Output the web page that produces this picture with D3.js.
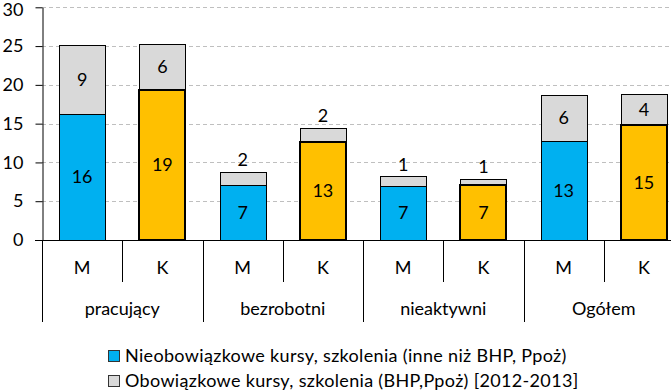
<!DOCTYPE html>
<html><head><meta charset="utf-8">
<script src="https://cdn.jsdelivr.net/npm/d3@7"></script>
<style>body{margin:0;background:#fff}svg{display:block}text{font-family:Lato,"Open Sans",sans-serif;fill:#000}</style>
</head><body><svg id="c" width="671" height="392"></svg>
<script>
const groups = ["pracujący","bezrobotni","nieaktywni","Ogółem"];
const sexes = ["M","K"];
const nonMandatory = [16.2, 19.3, 7.05, 12.6, 7.0, 7.1, 12.8, 14.8];
const mandatory = [8.9, 6.0, 1.7, 1.9, 1.2, 0.8, 5.9, 4.0];
const yTicks = [0,5,10,15,20,25,30];
const legendLabels = ["Nieobowiązkowe kursy, szkolenia (inne niż BHP, Ppoż)","Obowiązkowe kursy, szkolenia (BHP,Ppoż) [2012-2013]"];

const svg = d3.select("#c");
const L = 42, R = 684, T0 = 240, Y30 = 7.3;
const y = d3.scaleLinear().domain([0,30]).range([T0, Y30]);
const gx = d3.scaleBand().domain(groups).range([L,R]).paddingInner(0).paddingOuter(0);
const sx = d3.scaleBand().domain(sexes).range([0,gx.bandwidth()]).paddingInner(0.427).paddingOuter(0.2135);

// gridlines
svg.append("g").selectAll("line").data(yTicks.slice(1)).join("line")
  .attr("x1",L).attr("x2",671).attr("y1",d=>Math.round(y(d))+0.5).attr("y2",d=>Math.round(y(d))+0.5)
  .attr("stroke","#bfbfbf").attr("stroke-dasharray","4,3");

const rows = [];
groups.forEach((g,gi)=>sexes.forEach((s,si)=>{
  const i = gi*2+si;
  rows.push({g,s,i,a:nonMandatory[i],b:mandatory[i]});
}));
const bx = d => gx(d.g)+sx(d.s);
const bw = sx.bandwidth();

// mandatory (top, gray)
svg.append("g").selectAll("rect").data(rows).join("rect")
  .attr("x",d=>Math.round(bx(d))+0.5).attr("width",Math.round(bw))
  .attr("y",d=>Math.round(y(d.a+d.b))+0.5).attr("height",d=>Math.round(y(d.a))-Math.round(y(d.a+d.b)))
  .attr("fill","#d9d9d9").attr("stroke","#000").attr("stroke-width",1);
// non-mandatory
svg.append("g").selectAll("rect").data(rows).join("rect")
  .attr("x",d=>Math.round(bx(d))+(d.s==="K"?0:0.5)).attr("width",Math.round(bw))
  .attr("y",d=>Math.round(y(d.a))+(d.s==="K"?0:0.5)).attr("height",d=>T0-Math.round(y(d.a)))
  .attr("fill",d=>d.s==="M"?"#00b0f0":"#ffc000").attr("stroke","#000").attr("stroke-width",d=>d.s==="K"?2:1);

// labels
const lab = svg.append("g").attr("font-size",18).attr("text-anchor","middle");
rows.forEach(d=>{
  const cx = bx(d)+bw/2;
  lab.append("text").attr("x",cx).attr("y",(y(0)+y(d.a))/2).attr("dy","0.35em").text(Math.round(d.a));
  const top = y(d.a+d.b), mid = y(d.a);
  const inside = (mid-top) > 22;
  lab.append("text").attr("x",cx).attr("y",inside?(top+mid)/2:top-12).attr("dy","0.35em").text(Math.round(d.b));
});

// y axis
const ya = svg.append("g").attr("transform",`translate(${L+0.5},0)`)
  .call(d3.axisLeft(y).tickValues(yTicks).tickSize(7).tickSizeOuter(0).tickPadding(12));
ya.select(".domain").attr("stroke","#000");
ya.selectAll(".tick line").attr("stroke","#000");
ya.selectAll(".tick text").attr("font-size",18).attr("font-family","Lato").attr("fill","#000")
  .attr("dy",d=>d===30?"0.45em":"0.32em");

// x axis
svg.append("line").attr("x1",35).attr("x2",671).attr("y1",T0+0.5).attr("y2",T0+0.5).attr("stroke","#000");
const xa = svg.append("g");
groups.forEach(g=>{
  xa.append("line").attr("x1",Math.round(gx(g))+0.5).attr("x2",Math.round(gx(g))+0.5).attr("y1",T0).attr("y2",322).attr("stroke","#000");
  xa.append("line").attr("x1",Math.round(gx(g)+gx.bandwidth()/2)+0.5).attr("x2",Math.round(gx(g)+gx.bandwidth()/2)+0.5).attr("y1",T0).attr("y2",282).attr("stroke","#000");
  sexes.forEach(s=>{
    xa.append("text").attr("x",gx(g)+sx(s)+bw/2).attr("y",268).attr("dy","0.35em").attr("text-anchor","middle").attr("font-size",18).text(s);
  });
  xa.append("text").attr("x",gx(g)+gx.bandwidth()/2).attr("y",309).attr("dy","0.35em").attr("text-anchor","middle").attr("font-size",18).text(g);
});

// legend
const legColors = ["#00b0f0","#d9d9d9"];
const lg = svg.append("g");
legendLabels.forEach((t,i)=>{
  const cy = 356 + i*25;
  lg.append("rect").attr("x",108.5).attr("y",cy-5.5).attr("width",11).attr("height",11).attr("fill",legColors[i]).attr("stroke","#333");
  lg.append("text").attr("x",125).attr("y",cy).attr("dy","0.35em").attr("font-size",18).attr("letter-spacing",0.33).text(t);
});
</script></body></html>
